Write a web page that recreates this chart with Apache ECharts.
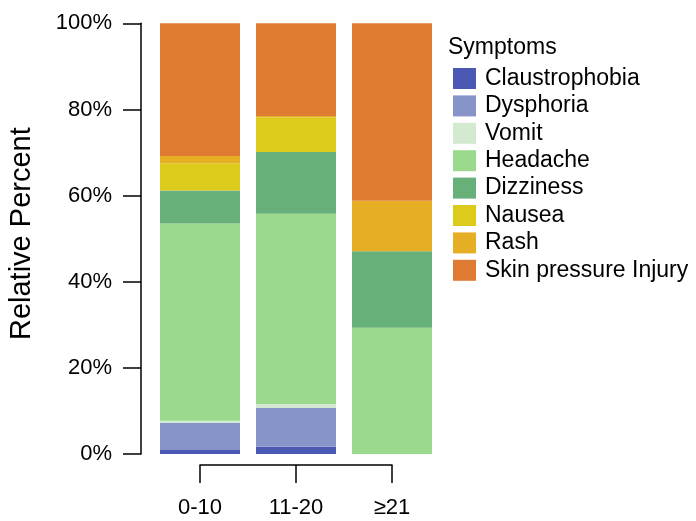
<!DOCTYPE html>
<html>
<head>
<meta charset="utf-8">
<script src="https://cdn.jsdelivr.net/npm/echarts@6/dist/echarts.min.js"></script>
<style>
html,body{margin:0;padding:0;background:#fff;}
#chart{width:696px;height:521px;}
</style>
</head>
<body>
<div id="chart"></div>
<script>
const categories = ['0-10', '11-20', '≥21'];
const yTicks = [0, 20, 40, 60, 80, 100];
const claustrophobia = [0.9, 1.7, 0];
const dysphoria = [6.3, 9.0, 0];
const vomit = [0.5, 0.9, 0];
const headache = [45.8, 44.2, 29.3];
const dizziness = [7.7, 14.3, 17.8];
const nausea = [6.3, 8.0, 0];
const rash = [1.7, 0.4, 11.7];
const skinPressureInjury = [30.8, 21.5, 41.2];

const seriesNames = ['Claustrophobia','Dysphoria','Vomit','Headache','Dizziness','Nausea','Rash','Skin pressure Injury'];
const seriesData = [claustrophobia, dysphoria, vomit, headache, dizziness, nausea, rash, skinPressureInjury];
const colors = ['#4B58B4','#8794CA','#D4EAD0','#9BDA8C','#68B07A','#DCCB1B','#E6AE25','#E07B34'];

const FONT = 'Liberation Sans, Arial, sans-serif';
const chart = echarts.init(document.getElementById('chart'), null, {renderer:'canvas'});

chart.setOption({
  animation: false,
  backgroundColor: '#fff',
  color: colors,
  title: {
    text: 'Symptoms', left: 443, top: 31,
    textStyle: {fontFamily: FONT, fontSize: 23, fontWeight: 'normal', color: '#000'}
  },
  legend: {
    orient: 'vertical', left: 448, top: 62,
    itemWidth: 23, itemHeight: 21, itemGap: 4.4,
    icon: 'rect',
    textStyle: {fontFamily: FONT, fontSize: 23, color: '#000', padding: [0,0,0,4]},
    data: seriesNames
  },
  grid: [
    {left: 152, width: 288, top: 23.3, bottom: 67, containLabel: false},
    {left: 200, width: 192, top: 464, height: 1, containLabel: false}
  ],
  xAxis: [
    {type: 'category', gridIndex: 0, data: categories, show: false},
    {type: 'category', gridIndex: 1, data: categories, boundaryGap: false,
     axisLine: {show: true, lineStyle: {color: '#000', width: 1.5}},
     axisTick: {show: true, length: 18, lineStyle: {color: '#000', width: 1.5}},
     axisLabel: {margin: 32, fontFamily: FONT, fontSize: 22, color: '#000'},
     splitLine: {show: false}}
  ],
  yAxis: [
    {type: 'value', gridIndex: 0, min: 0, max: 100, interval: 20, offset: 11,
     name: 'Relative Percent', nameLocation: 'middle', nameGap: 105,
     nameTextStyle: {fontFamily: FONT, fontSize: 29, color: '#000', padding: [0,0,0,10]},
     axisLine: {show: true, lineStyle: {color: '#000', width: 1.5}},
     axisTick: {show: true, length: 18, lineStyle: {color: '#000', width: 1.5}},
     axisLabel: {margin: 29, fontFamily: FONT, fontSize: 22, color: '#000',
       formatter: v => yTicks.includes(v) ? v + '%' : ''},
     splitLine: {show: false}},
    {type: 'value', gridIndex: 1, show: false}
  ],
  series: seriesNames.map((n, i) => ({
    name: n, type: 'bar', stack: 'total', barWidth: 80,
    xAxisIndex: 0, yAxisIndex: 0,
    data: seriesData[i],
    itemStyle: {color: colors[i]}
  }))
});
</script>
</body>
</html>
